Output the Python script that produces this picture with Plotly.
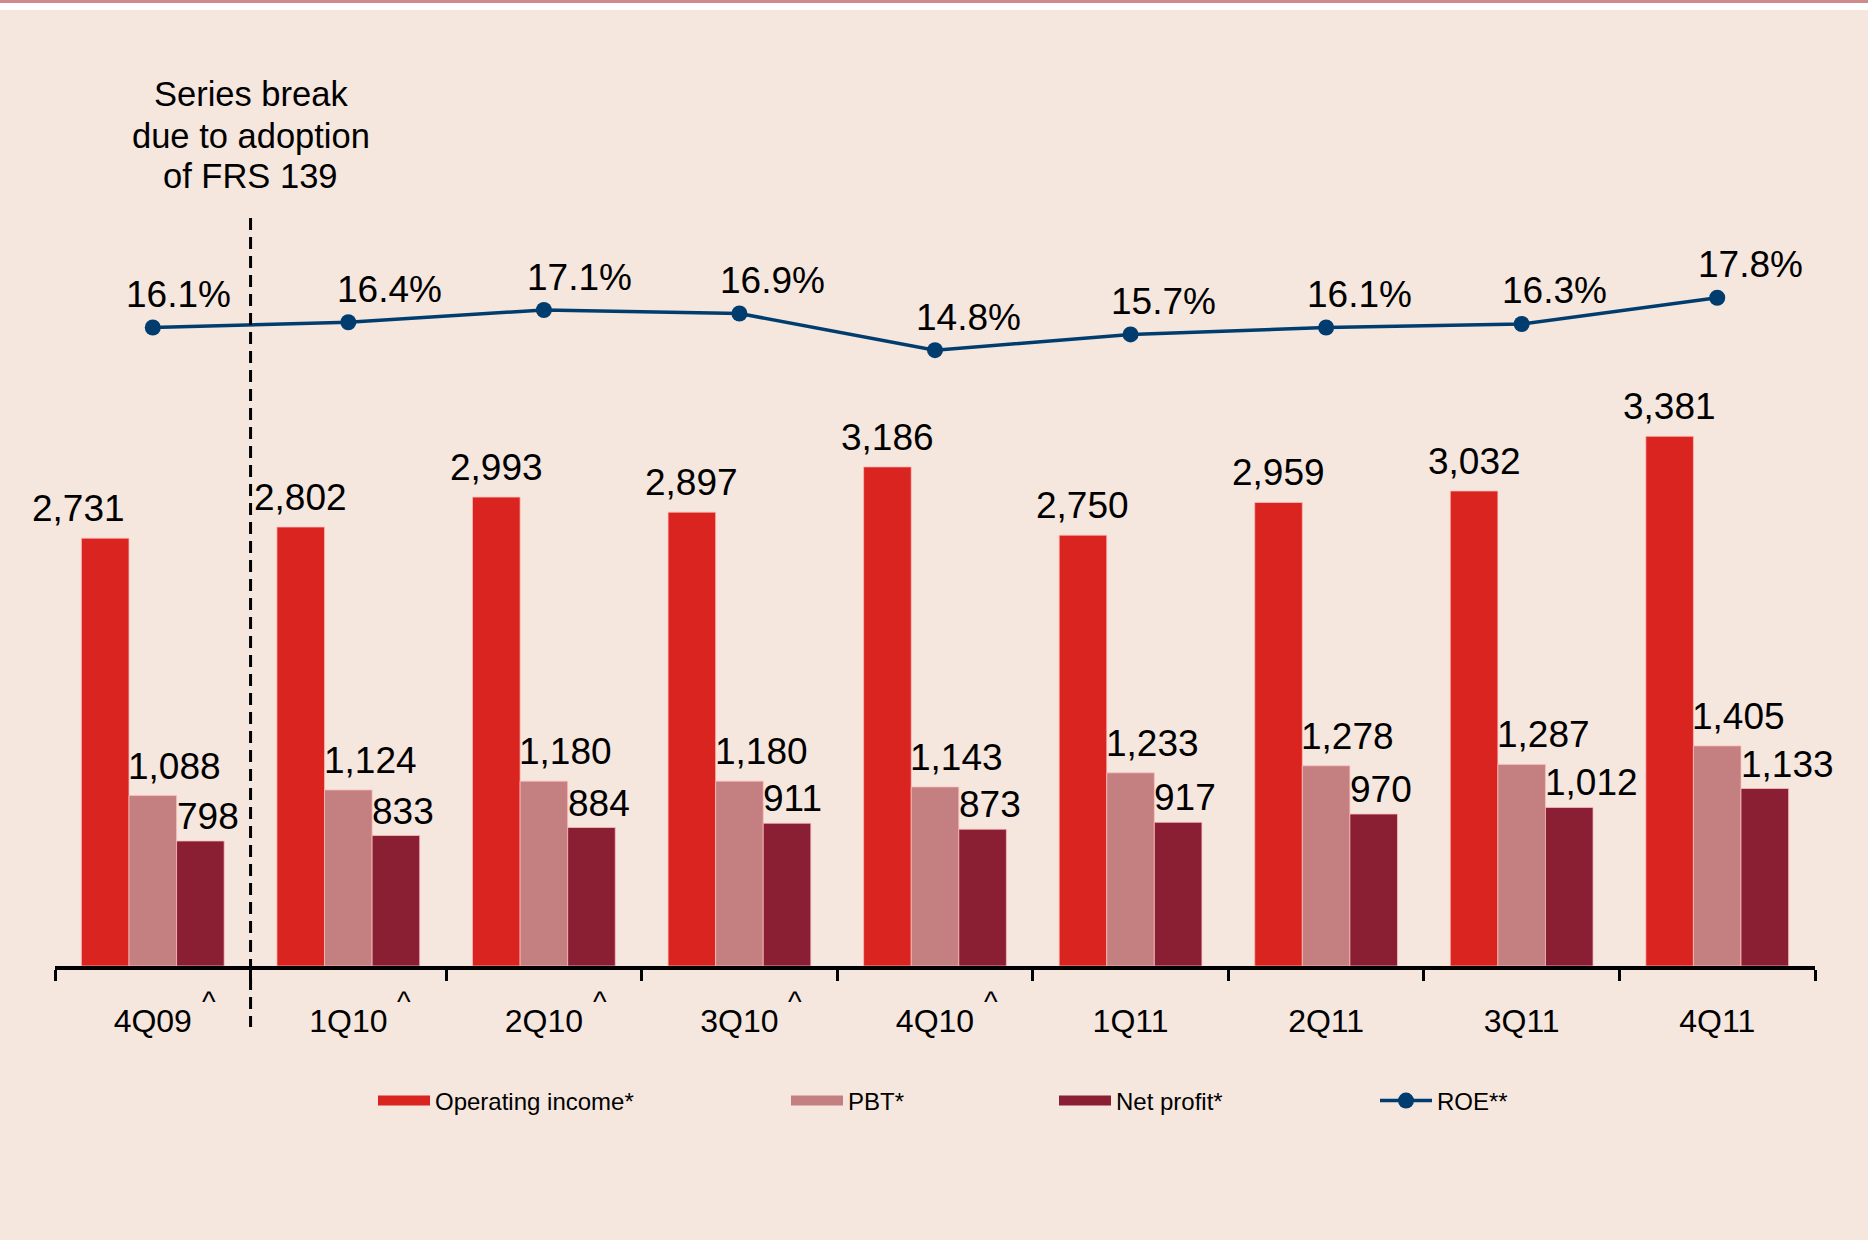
import plotly.graph_objects as go

# ---- data ----
quarters = ["4Q09", "1Q10", "2Q10", "3Q10", "4Q10", "1Q11", "2Q11", "3Q11", "4Q11"]
caret_flag = [True, True, True, True, True, False, False, False, False]  # "^" marked quarters
operating_income = [2731, 2802, 2993, 2897, 3186, 2750, 2959, 3032, 3381]
pbt = [1088, 1124, 1180, 1180, 1143, 1233, 1278, 1287, 1405]
net_profit = [798, 833, 884, 911, 873, 917, 970, 1012, 1133]
roe = [16.1, 16.4, 17.1, 16.9, 14.8, 15.7, 16.1, 16.3, 17.8]
note_lines = ["Series break", "due to adoption", "of FRS 139"]

# ---- style ----
BG = "#F5E6DE"
C_OI = "#DA241F"
C_PBT = "#C48080"
C_NP = "#8A1F34"
C_ROE = "#003D6E"
EDGE = "rgba(255,190,190,0.75)"
FONT = "Arial, Liberation Sans, sans-serif"

W, H = 1868, 1240
ML, MR, MT, MB = 55, 53, 100, 274
PW = W - ML - MR
PH = H - MT - MB
BARGAP = 0.27
cat_px = PW / len(quarters)
bar_px = cat_px * (1 - BARGAP) / 3
PX_PER_UNIT = 0.15666
PX_PER_PCT = 17.47
ROE_BOTTOM = -20.45


def py(pix):
    return (H - MB - pix) / PH


def px_(pix):
    return (pix - ML) / PW


fig = go.Figure()
fig.add_trace(go.Bar(x=quarters, y=operating_income, name="Operating income*", marker_color=C_OI,
                     marker_line=dict(color=EDGE, width=1), showlegend=False))
fig.add_trace(go.Bar(x=quarters, y=pbt, name="PBT*", marker_color=C_PBT,
                     marker_line=dict(color=EDGE, width=1), showlegend=False))
fig.add_trace(go.Bar(x=quarters, y=net_profit, name="Net profit*", marker_color=C_NP,
                     marker_line=dict(color=EDGE, width=1), showlegend=False))
fig.add_trace(go.Scatter(x=quarters, y=roe, name="ROE**", mode="lines+markers", yaxis="y2",
                         line=dict(color=C_ROE, width=3.5), marker=dict(size=16, color=C_ROE),
                         legend="legend4"))

# legend-only entries with wide swatches
for nm, col, lg in [("Operating income*", C_OI, "legend"), ("PBT*", C_PBT, "legend2"),
                    ("Net profit*", C_NP, "legend3")]:
    fig.add_trace(go.Scatter(x=[None], y=[None], mode="lines", name=nm,
                             line=dict(color=col, width=12), legend=lg, hoverinfo="skip"))

LABEL_SIZE = 37
ann = []
nudge_oi = {"4Q09": -27}
nudge_roe = {"4Q09": -7, "1Q10": 8, "2Q10": 3}
for q, v in zip(quarters, operating_income):
    ann.append(dict(x=q, y=v, xref="x", yref="y", text=f"{v:,}", showarrow=False,
                    xanchor="center", yanchor="bottom", xshift=-bar_px + nudge_oi.get(q, 0), yshift=7))
for q, v in zip(quarters, pbt):
    ann.append(dict(x=q, y=v, xref="x", yref="y", text=f"{v:,}", showarrow=False,
                    xanchor="left", yanchor="bottom", xshift=-bar_px / 2 - 3, yshift=7))
for q, v in zip(quarters, net_profit):
    ann.append(dict(x=q, y=v, xref="x", yref="y", text=f"{v:,}", showarrow=False,
                    xanchor="left", yanchor="bottom", xshift=bar_px / 2 - 2, yshift=2))
for q, v in zip(quarters, roe):
    ann.append(dict(x=q, y=v, xref="x", yref="y2", text=f"{v:.1f}%", showarrow=False,
                    xanchor="center", yanchor="middle", xshift=33 + nudge_roe.get(q, 0), yshift=33))
for a in ann:
    a["font"] = dict(size=LABEL_SIZE, color="black", family=FONT)

# carets next to restated quarters
for q, f in zip(quarters, caret_flag):
    if f:
        ann.append(dict(x=q, xref="x", y=py(1002), yref="paper", text="^", showarrow=False,
                        xanchor="center", yanchor="middle", xshift=56,
                        font=dict(size=29, color="black", family=FONT)))

# series-break note
for line, ypix in zip(note_lines, [94, 136, 176]):
    ann.append(dict(x=0.5, xref="x", y=py(ypix), yref="paper", text=line, showarrow=False,
                    xanchor="center", yanchor="middle", font=dict(size=34.5, color="black", family=FONT)))

shapes = [
    dict(type="line", xref="x", yref="paper", x0=0.5, x1=0.5, y0=py(218), y1=py(1027),
         line=dict(color="black", width=3, dash="12px,7px"), layer="above"),
    dict(type="rect", xref="paper", yref="paper", x0=px_(0), x1=px_(W), y0=py(10), y1=py(0),
         fillcolor="white", line_width=0, layer="below"),
    dict(type="rect", xref="paper", yref="paper", x0=px_(0), x1=px_(W), y0=py(3), y1=py(0),
         fillcolor="#CF8A8E", line_width=0, layer="below"),
]

leg_common = dict(orientation="h", yanchor="middle", xanchor="left", bgcolor="rgba(0,0,0,0)",
                  borderwidth=0, itemwidth=52, font=dict(size=24, color="black", family=FONT),
                  y=py(1101))

fig.update_layout(
    width=W, height=H,
    margin=dict(l=ML, r=MR, t=MT, b=MB),
    paper_bgcolor=BG, plot_bgcolor=BG,
    barmode="group", bargap=BARGAP, bargroupgap=0,
    font=dict(family=FONT, color="black"),
    xaxis=dict(type="category", range=[-0.5, len(quarters) - 0.5], tickmode="array",
               tickvals=quarters, ticktext=quarters, showline=True, linecolor="black",
               linewidth=3.5, ticks="outside", tickson="boundaries", ticklen=11, tickwidth=3,
               tickcolor="black", showgrid=False, zeroline=False, ticklabelstandoff=24,
               tickfont=dict(size=32, color="black", family=FONT)),
    yaxis=dict(range=[0, PH / PX_PER_UNIT], visible=False, showgrid=False),
    yaxis2=dict(range=[ROE_BOTTOM, ROE_BOTTOM + PH / PX_PER_PCT], overlaying="y", visible=False,
                showgrid=False),
    legend=dict(leg_common, x=px_(379 - 6)),
    legend2=dict(leg_common, x=px_(792 - 6)),
    legend3=dict(leg_common, x=px_(1060 - 6)),
    legend4=dict(leg_common, x=px_(1378 - 3)),
    annotations=ann,
    shapes=shapes,
)

fig.write_html("out.html", config={"displayModeBar": False},
               post_script="document.body.style.margin='0';document.body.style.padding='0';")
